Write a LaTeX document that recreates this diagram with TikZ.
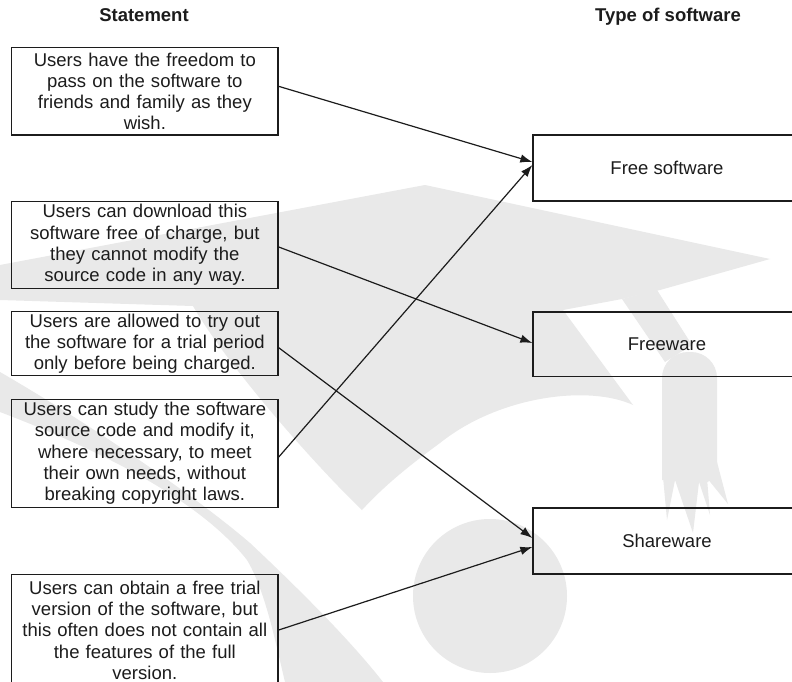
\documentclass[tikz,border=0pt]{standalone}
\usepackage{fontspec}
\setmainfont{Liberation Sans}
\usetikzlibrary{arrows.meta,calc}
\definecolor{wm}{RGB}{233,233,233}
\definecolor{ink}{RGB}{28,28,28}
\begin{document}
\begin{tikzpicture}[x=1pt,y=-1pt,
  stmt/.style={draw=ink, line width=1.3pt, text=ink, text width=258pt, align=center,
    minimum width=266.5pt, inner sep=0pt, font=\fontsize{18.5}{21.3}\selectfont},
  kind/.style={draw=ink, line width=1.3pt, text=ink, minimum width=268pt, inner sep=0pt,
    font=\fontsize{18.5}{21.3}\selectfont},
  head/.style={text=ink, inner sep=0pt, anchor=base, font=\fontsize{18.5}{21.3}\selectfont\bfseries},
  conn/.style={draw=ink, line width=1.2pt, -{Latex[length=12pt,width=8.5pt]}}]
\clip (0,0) rectangle (792,682);
\fill[white] (0,0) rectangle (792,682);
% watermark
\fill[wm] (0,265) -- (425,185) -- (770,259) -- (660,290) -- (622,299) -- (563,310) -- (633,405)
  .. controls (590,385) and (500,395) .. (440,443)
  .. controls (410,465) and (385,485) .. (362,510)
  .. controls (320,470) and (230,370) .. (193,306) -- (0,300) -- cycle;
\fill[wm] (622,299) -- (657,290) -- (692,345) -- (665,362) -- cycle;
\fill[wm] (662,480) [rounded corners=26pt] -- (662,352) -- (717,352) [sharp corners] -- (717,470) -- (708,482) -- cycle;
\fill[wm] (662,466) -- (667,520) -- (675,480) -- (693,533) -- (699,482) -- (710,515) -- (707,478) -- (728,504) -- (717,462) -- cycle;
\fill[wm] (490,596) circle[radius=77pt];
\fill[wm] (0,372) .. controls (100,430) and (200,500) .. (250,543)
  .. controls (300,590) and (350,640) .. (383,682) -- (290,690) -- (285,682)
  .. controls (275,640) and (265,590) .. (247,560)
  .. controls (200,500) and (100,450) .. (0,412) -- cycle;
% headers
\node[head] (h1) at (144,21.5) {Statement};
\node[head] (h2) at (668,21.5) {Type of software};
% statements
\node[stmt, minimum height=87.3pt] (s1) at (144.85,91.35) {Users have the freedom to\\pass on the software to\\friends and family as they\\wish.};
\node[stmt, minimum height=86.6pt] (s2) at (144.85,245) {Users can download this\\software free of charge, but\\they cannot modify the\\source code in any way.};
\node[stmt, minimum height=64pt] (s3) at (144.85,343.7) {Users are allowed to try out\\the software for a trial period\\only before being charged.};
\node[stmt, minimum height=108.4pt] (s4) at (144.85,453.5) {Users can study the software\\source code and modify it,\\where necessary, to meet\\their own needs, without\\breaking copyright laws.};
\node[stmt, minimum height=111pt, anchor=north] (s5) at (144.85,574) {Users can obtain a free trial\\version of the software, but\\this often does not contain all\\the features of the full\\version.};
% types
\node[kind, minimum height=66pt] (fs) at (667,168) {Free software};
\node[kind, minimum height=64.3pt] (fw) at (667,344) {Freeware};
\node[kind, minimum height=66pt] (sw) at (667,541) {Shareware};
% connectors
\draw[conn] ([yshift=5pt]s1.east) -- ([yshift=6pt]fs.west);
\draw[conn] ([yshift=-3.5pt]s4.east) -- ([yshift=3pt]fs.west);
\draw[conn] ([yshift=-2pt]s2.east) -- ([yshift=1pt]fw.west);
\draw[conn] ([yshift=-4pt]s3.east) -- ([yshift=3pt]sw.west);
\draw[conn] ([yshift=-56pt]s5.north east) -- ([yshift=-6pt]sw.west);
\end{tikzpicture}
\end{document}
